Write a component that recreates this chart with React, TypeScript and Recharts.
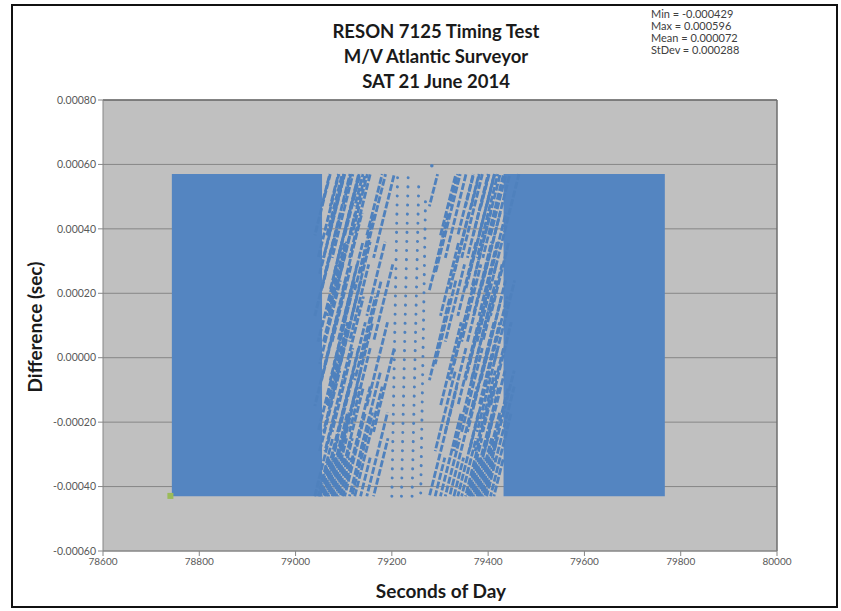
import React from "react";
import {
  ScatterChart,
  Scatter,
  XAxis,
  YAxis,
  CartesianGrid,
  ReferenceLine,
  ReferenceArea,
} from "recharts";

// ---- axis ticks ----
const xTicks = [78600, 78800, 79000, 79200, 79400, 79600, 79800, 80000];
const yTicks = [-0.0006, -0.0004, -0.0002, 0, 0.0002, 0.0004, 0.0006, 0.0008];

// ---- title / stats text ----
const titleLines = ["RESON 7125 Timing Test", "M/V Atlantic Surveyor", "SAT 21 June 2014"];
const statsLines = ["Min = -0.000429", "Max = 0.000596", "Mean = 0.000072", "StDev = 0.000288"];

// ---- dense (saturated) blocks of samples: [x1, x2, yLow, yHigh] ----
const denseBlocks = [
  [78743, 79055, -0.00043, 0.00057],
  [79432, 79767, -0.00043, 0.00057],
];

// ---- diagonal streaks of samples (drifting timing offset): [x1, y1, x2, y2] ----
const leftStreaks = [
  [79040, -0.00043, 79083, -0.00017], [79040, -0.00015, 79083, 0.00011], [79040, 0.00013, 79078, 0.00036], [79040, 0.00038, 79072, 0.00057],
  [79047, -0.00043, 79077, -0.00025], [79047, -0.00023, 79090, 0.00003], [79047, 0.00005, 79087, 0.00029], [79047, 0.00031, 79090, 0.00057],
  [79050, -0.00043, 79070, -0.00031], [79050, -0.00029, 79092, -0.00004], [79050, -0.00002, 79093, 0.00024], [79050, 0.00026, 79102, 0.00057],
  [79054, -0.00043, 79111, -0.00009], [79054, -0.00007, 79097, 0.00019], [79054, 0.00021, 79094, 0.00045], [79054, 0.00047, 79071, 0.00057],
  [79058, -0.00043, 79088, -0.00025], [79058, -0.00023, 79101, 0.00003], [79058, 0.00005, 79098, 0.00029], [79058, 0.00031, 79101, 0.00057],
  [79061, -0.00043, 79081, -0.00031], [79061, -0.00029, 79103, -0.00004], [79061, -0.00002, 79104, 0.00024], [79061, 0.00026, 79113, 0.00057],
  [79065, -0.00043, 79108, -0.00017], [79065, -0.00015, 79108, 0.00011], [79065, 0.00013, 79103, 0.00036], [79065, 0.00038, 79097, 0.00057],
  [79068, -0.00043, 79111, -0.00017], [79068, -0.00015, 79111, 0.00011], [79068, 0.00013, 79106, 0.00036], [79068, 0.00038, 79100, 0.00057],
  [79072, -0.00043, 79129, -0.00009], [79072, -0.00007, 79115, 0.00019], [79072, 0.00021, 79112, 0.00045], [79072, 0.00047, 79089, 0.00057],
  [79076, -0.00043, 79106, -0.00025], [79076, -0.00023, 79119, 0.00003], [79076, 0.00005, 79116, 0.00029], [79076, 0.00031, 79119, 0.00057],
  [79080, -0.00043, 79100, -0.00031], [79080, -0.00029, 79122, -0.00004], [79080, -0.00002, 79123, 0.00024], [79080, 0.00026, 79132, 0.00057],
  [79084, -0.00043, 79141, -0.00009], [79084, -0.00007, 79127, 0.00019], [79084, 0.00021, 79124, 0.00045], [79084, 0.00047, 79101, 0.00057],
  [79088, -0.00043, 79118, -0.00025], [79088, -0.00023, 79131, 0.00003], [79088, 0.00005, 79128, 0.00029], [79088, 0.00031, 79131, 0.00057],
  [79093, -0.00043, 79113, -0.00031], [79093, -0.00029, 79135, -0.00004], [79093, -0.00002, 79136, 0.00024], [79093, 0.00026, 79145, 0.00057],
  [79098, -0.00043, 79155, -0.00009], [79098, -0.00007, 79141, 0.00019], [79098, 0.00021, 79138, 0.00045], [79098, 0.00047, 79115, 0.00057],
  [79102, -0.00043, 79145, -0.00017], [79102, -0.00015, 79145, 0.00011], [79102, 0.00013, 79140, 0.00036], [79102, 0.00038, 79134, 0.00057],
  [79112, -0.00043, 79142, -0.00025], [79112, -0.00023, 79155, 0.00003], [79112, 0.00005, 79152, 0.00029], [79112, 0.00031, 79155, 0.00057],
  [79117, -0.00043, 79160, -0.00017], [79117, -0.00015, 79160, 0.00011], [79117, 0.00013, 79155, 0.00036], [79117, 0.00038, 79149, 0.00057],
  [79123, -0.00043, 79180, -0.00009], [79123, -0.00007, 79166, 0.00019], [79123, 0.00021, 79163, 0.00045], [79123, 0.00047, 79140, 0.00057],
  [79135, -0.00043, 79155, -0.00031], [79135, -0.00029, 79177, -0.00004], [79135, -0.00002, 79178, 0.00024], [79135, 0.00026, 79187, 0.00057],
  [79148, -0.00043, 79191, -0.00017], [79148, -0.00015, 79191, 0.00011], [79148, 0.00013, 79186, 0.00036], [79148, 0.00038, 79180, 0.00057],
  [79162, -0.00043, 79192, -0.00025], [79162, -0.00023, 79205, 0.00003], [79162, 0.00005, 79202, 0.00029], [79162, 0.00031, 79205, 0.00057],
];

const rightStreaks = [
  [79278, -0.00043, 79335, -0.00009], [79278, -0.00007, 79321, 0.00019], [79278, 0.00021, 79318, 0.00045], [79278, 0.00047, 79295, 0.00057],
  [79290, -0.00043, 79310, -0.00031], [79290, -0.00029, 79332, -0.00004], [79290, -0.00002, 79333, 0.00024], [79290, 0.00026, 79342, 0.00057],
  [79301, -0.00043, 79344, -0.00017], [79301, -0.00015, 79344, 0.00011], [79301, 0.00013, 79339, 0.00036], [79301, 0.00038, 79333, 0.00057],
  [79311, -0.00043, 79341, -0.00025], [79311, -0.00023, 79354, 0.00003], [79311, 0.00005, 79351, 0.00029], [79311, 0.00031, 79354, 0.00057],
  [79320, -0.00043, 79377, -0.00009], [79320, -0.00007, 79363, 0.00019], [79320, 0.00021, 79360, 0.00045], [79320, 0.00047, 79337, 0.00057],
  [79329, -0.00043, 79349, -0.00031], [79329, -0.00029, 79371, -0.00004], [79329, -0.00002, 79372, 0.00024], [79329, 0.00026, 79381, 0.00057],
  [79337, -0.00043, 79380, -0.00017], [79337, -0.00015, 79380, 0.00011], [79337, 0.00013, 79375, 0.00036], [79337, 0.00038, 79369, 0.00057],
  [79345, -0.00043, 79375, -0.00025], [79345, -0.00023, 79388, 0.00003], [79345, 0.00005, 79385, 0.00029], [79345, 0.00031, 79388, 0.00057],
  [79353, -0.00043, 79410, -0.00009], [79353, -0.00007, 79396, 0.00019], [79353, 0.00021, 79393, 0.00045], [79353, 0.00047, 79370, 0.00057],
  [79357, -0.00043, 79387, -0.00025], [79357, -0.00023, 79400, 0.00003], [79357, 0.00005, 79397, 0.00029], [79357, 0.00031, 79400, 0.00057],
  [79361, -0.00043, 79381, -0.00031], [79361, -0.00029, 79403, -0.00004], [79361, -0.00002, 79404, 0.00024], [79361, 0.00026, 79413, 0.00057],
  [79365, -0.00043, 79422, -0.00009], [79365, -0.00007, 79408, 0.00019], [79365, 0.00021, 79405, 0.00045], [79365, 0.00047, 79382, 0.00057],
  [79369, -0.00043, 79412, -0.00017], [79369, -0.00015, 79412, 0.00011], [79369, 0.00013, 79407, 0.00036], [79369, 0.00038, 79401, 0.00057],
  [79373, -0.00043, 79393, -0.00031], [79373, -0.00029, 79415, -0.00004], [79373, -0.00002, 79416, 0.00024], [79373, 0.00026, 79425, 0.00057],
  [79377, -0.00043, 79407, -0.00025], [79377, -0.00023, 79420, 0.00003], [79377, 0.00005, 79417, 0.00029], [79377, 0.00031, 79420, 0.00057],
  [79381, -0.00043, 79424, -0.00017], [79381, -0.00015, 79424, 0.00011], [79381, 0.00013, 79419, 0.00036], [79381, 0.00038, 79413, 0.00057],
  [79385, -0.00043, 79442, -0.00009], [79385, -0.00007, 79428, 0.00019], [79385, 0.00021, 79425, 0.00045], [79385, 0.00047, 79402, 0.00057],
  [79389, -0.00043, 79419, -0.00025], [79389, -0.00023, 79432, 0.00003], [79389, 0.00005, 79429, 0.00029], [79389, 0.00031, 79432, 0.00057],
  [79393, -0.00043, 79413, -0.00031], [79393, -0.00029, 79435, -0.00004], [79393, -0.00002, 79436, 0.00024], [79393, 0.00026, 79445, 0.00057],
  [79397, -0.00043, 79454, -0.00009], [79397, -0.00007, 79440, 0.00019], [79397, 0.00021, 79437, 0.00045], [79397, 0.00047, 79414, 0.00057],
  [79405, -0.00043, 79448, -0.00017], [79405, -0.00015, 79448, 0.00011], [79405, 0.00013, 79443, 0.00036], [79405, 0.00038, 79437, 0.00057],
  [79412, -0.00043, 79432, -0.00031], [79412, -0.00029, 79454, -0.00004], [79412, -0.00002, 79455, 0.00024], [79412, 0.00026, 79464, 0.00057],
];

// ---- sparse dotted columns in the middle: [x1, y1, x2, y2] ----
const dottedColumns = [
  [79200, -0.00043, 79212, 0.00057],
  [79220, -0.00043, 79234, 0.00057],
  [79242, -0.00043, 79256, 0.00055],
  [79260, -0.00042, 79270, 0.0005],
];

// ---- single extreme samples ----
const maxPoint = [{ x: 79283, y: 0.000596 }];
const minPoint = [{ x: 78740, y: -0.000429 }];

const BLUE = "#4F81BD";
const DENSE = "#5485C1";
const FONT = "Lato, 'Open Sans', sans-serif";

const fmtY = (v: number) => v.toFixed(5);

export default function App() {
  return (
    <div
      style={{
        position: "absolute",
        left: 0,
        top: 0,
        width: 841,
        height: 611,
        background: "#fff",
        fontFamily: FONT,
      }}
    >
      <div
        style={{
          position: "absolute",
          left: 11,
          top: 4,
          width: 827,
          height: 604,
          border: "2px solid #111",
          boxSizing: "border-box",
        }}
      />
      <ScatterChart
        width={841}
        height={611}
        margin={{ top: 100, right: 64, bottom: 30, left: 43 }}
        style={{ position: "absolute", left: 0, top: 0 }}
      >
        <CartesianGrid
          vertical={false}
          horizontal={true}
          fill="#C0C0C0"
          fillOpacity={1}
          stroke="#868686"
          strokeWidth={1}
        />
        <XAxis
          type="number"
          dataKey="x"
          domain={[78600, 80000]}
          ticks={xTicks}
          allowDataOverflow
          height={30}
          tick={{ fontSize: 10, fill: "#595959", fontFamily: FONT }}
          tickLine={{ stroke: "#868686" }}
          axisLine={{ stroke: "#868686" }}
          tickSize={5}
        />
        <YAxis
          type="number"
          dataKey="y"
          domain={[-0.0006, 0.0008]}
          ticks={yTicks}
          allowDataOverflow
          width={60}
          tickFormatter={fmtY}
          tick={{ fontSize: 10.5, fill: "#595959", fontFamily: FONT }}
          tickLine={{ stroke: "#868686" }}
          axisLine={{ stroke: "#868686" }}
          tickSize={5}
        />
        <ReferenceLine x={80000} stroke="#6e6e6e" strokeWidth={1.5} />
        <ReferenceLine y={0.0008} stroke="#6e6e6e" strokeWidth={1.5} />
        {denseBlocks.map((b, i) => (
          <ReferenceArea
            key={"d" + i}
            x1={b[0]}
            x2={b[1]}
            y1={b[2]}
            y2={b[3]}
            fill={DENSE}
            fillOpacity={1}
            stroke="none"
          />
        ))}
        {[...leftStreaks, ...rightStreaks].map((s, i) => (
          <ReferenceLine
            key={"s" + i}
            segment={[
              { x: s[0], y: s[1] },
              { x: s[2], y: s[3] },
            ]}
            stroke={BLUE}
            strokeWidth={2.8}
            strokeDasharray="7 2"
            strokeDashoffset={(i * 5) % 9}
          />
        ))}
        {dottedColumns.map((s, i) => (
          <ReferenceLine
            key={"c" + i}
            segment={[
              { x: s[0], y: s[1] },
              { x: s[2], y: s[3] },
            ]}
            stroke={BLUE}
            strokeWidth={3}
            strokeLinecap="round"
            strokeDasharray="0.1 9"
          />
        ))}
        <Scatter
          data={maxPoint}
          fill={BLUE}
          isAnimationActive={false}
          shape={(p: any) => <circle cx={p.cx} cy={p.cy} r={1.8} fill={BLUE} />}
        />
        <Scatter
          data={minPoint}
          fill="#9BBB59"
          isAnimationActive={false}
          shape={(p: any) => (
            <rect x={p.cx - 3} y={p.cy - 3} width={6} height={6} fill="#9BBB59" />
          )}
        />
      </ScatterChart>
      {titleLines.map((t, i) => (
        <div
          key={t}
          style={{
            position: "absolute",
            left: 236,
            width: 400,
            top: 20 + i * 25,
            textAlign: "center",
            fontSize: 18.5,
            fontWeight: 700,
            color: "#1a1a1a",
            lineHeight: "22px",
          }}
        >
          {t}
        </div>
      ))}
      {statsLines.map((t, i) => (
        <div
          key={t}
          style={{
            position: "absolute",
            left: 651,
            top: 8 + i * 12,
            fontSize: 11,
            color: "#404040",
            lineHeight: "12px",
            whiteSpace: "nowrap",
          }}
        >
          {t}
        </div>
      ))}
      <div
        style={{
          position: "absolute",
          left: 341,
          width: 200,
          top: 580,
          textAlign: "center",
          fontSize: 19,
          fontWeight: 700,
          color: "#1a1a1a",
          lineHeight: "22px",
        }}
      >
        Seconds of Day
      </div>
      <div
        style={{
          position: "absolute",
          left: 35 - 100,
          width: 200,
          top: 327 - 11,
          textAlign: "center",
          fontSize: 19,
          fontWeight: 700,
          color: "#1a1a1a",
          lineHeight: "22px",
          transform: "rotate(-90deg)",
        }}
      >
        Difference (sec)
      </div>
    </div>
  );
}
